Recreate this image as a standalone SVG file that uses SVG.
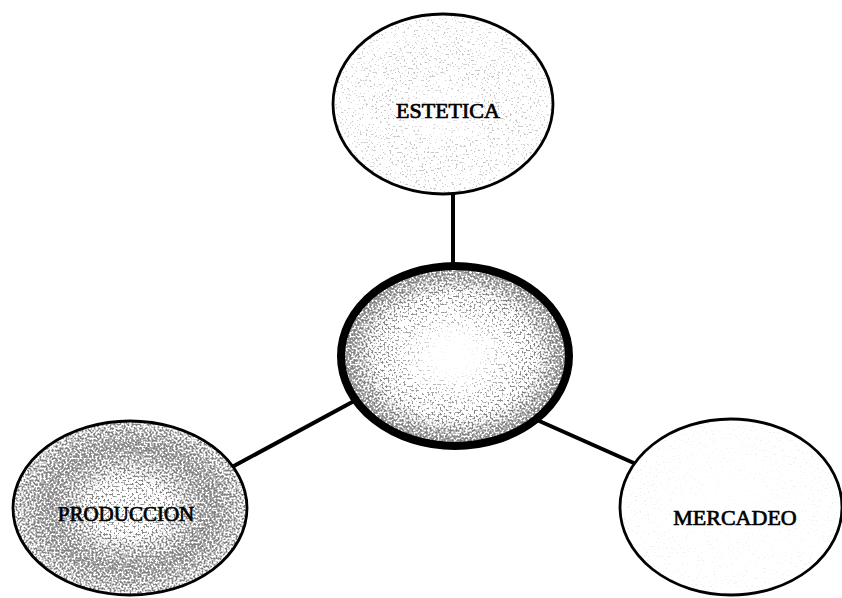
<svg xmlns="http://www.w3.org/2000/svg" width="842" height="598" viewBox="0 0 842 598">
  <style>
    .outline { fill: none; stroke: #000; stroke-width: 2.8; }
    .paper { fill: #fff; }
    .label { font-family: "Liberation Serif", "Times New Roman", serif; font-size: 22px; fill: #000; stroke: #000; stroke-width: 0.7; text-anchor: middle; }
    .link { stroke: #000; stroke-width: 4; stroke-linecap: butt; }
  </style>
  <defs>
    <!-- stochastic halftone: a dot is printed wherever the shade is darker than the noise -->
    <filter id="dither" x="-5%" y="-5%" width="110%" height="110%" color-interpolation-filters="sRGB">
      <feColorMatrix in="SourceGraphic" type="matrix" values="0 0 0 0 0  0 0 0 0 0  0 0 0 0 0  -0.333 -0.333 -0.334 0 1" result="shade"/>
      <feTurbulence type="fractalNoise" baseFrequency="0.5" numOctaves="2" seed="7" result="noise"/>
      <feColorMatrix in="noise" type="matrix" values="0 0 0 0 0  0 0 0 0 0  0 0 0 0 0  2.6 0 0 0 -0.8" result="level"/>
      <feComposite in="shade" in2="level" operator="arithmetic" k1="0" k2="1" k3="-1" k4="0.5" result="diff"/>
      <feComponentTransfer in="diff" result="dots">
        <feFuncA type="discrete" tableValues="0 1"/>
      </feComponentTransfer>
      <feComposite in="dots" in2="SourceAlpha" operator="in"/>
    </filter>
    <radialGradient id="gCore" cx="0.5" cy="0.5" r="0.5">
      <stop offset="0" stop-color="#fff"/>
      <stop offset="0.2" stop-color="#f6f6f6"/>
      <stop offset="0.45" stop-color="#b8b8b8"/>
      <stop offset="0.75" stop-color="#707070"/>
      <stop offset="1" stop-color="#202020"/>
    </radialGradient>
    <radialGradient id="gAesthetic" cx="0.5" cy="0.55" r="0.5">
      <stop offset="0" stop-color="#f4f4f4"/>
      <stop offset="0.5" stop-color="#d8d8d8"/>
      <stop offset="1" stop-color="#e2e2e2"/>
    </radialGradient>
    <radialGradient id="gProduction" cx="0.5" cy="0.5" r="0.5">
      <stop offset="0" stop-color="#a8a8a8"/>
      <stop offset="0.35" stop-color="#7a7a7a"/>
      <stop offset="0.7" stop-color="#383838"/>
      <stop offset="1" stop-color="#6a6a6a"/>
    </radialGradient>
    <radialGradient id="gMarketing" cx="0.5" cy="0.5" r="0.5">
      <stop offset="0" stop-color="#fcfcfc"/>
      <stop offset="1" stop-color="#f6f6f6"/>
    </radialGradient>
  </defs>

  <rect width="842" height="598" fill="#fff"/>

  <g id="connectors">
    <line class="link" x1="453" y1="193" x2="453" y2="266"/>
    <line class="link" x1="356" y1="400" x2="232" y2="467"/>
    <line class="link" x1="537" y1="420" x2="636" y2="464"/>
  </g>

  <g id="estetica">
    <ellipse class="paper" cx="443" cy="104" rx="110" ry="90"/>
    <ellipse cx="443" cy="104" rx="110" ry="90" fill="url(#gAesthetic)" filter="url(#dither)"/>
    <ellipse class="outline" cx="443" cy="104" rx="110" ry="90"/>
    <text class="label" x="448" y="118">ESTETICA</text>
  </g>

  <g id="centro">
    <ellipse class="paper" cx="455" cy="356" rx="115" ry="91"/>
    <ellipse cx="455" cy="356" rx="115" ry="91" fill="url(#gCore)" filter="url(#dither)"/>
    <ellipse cx="455" cy="356" rx="114" ry="90" fill="none" stroke="#000" stroke-width="8"/>
  </g>

  <g id="produccion">
    <ellipse class="paper" cx="130" cy="508" rx="117" ry="87"/>
    <ellipse cx="130" cy="508" rx="117" ry="87" fill="url(#gProduction)" filter="url(#dither)"/>
    <ellipse class="outline" cx="130" cy="508" rx="117" ry="87"/>
    <text class="label" x="126" y="521" style="font-size:21px">PRODUCCION</text>
  </g>

  <g id="mercadeo">
    <ellipse class="paper" cx="731" cy="507" rx="111" ry="88"/>
    <ellipse cx="731" cy="507" rx="111" ry="88" fill="url(#gMarketing)" filter="url(#dither)"/>
    <ellipse class="outline" cx="731" cy="507" rx="111" ry="88"/>
    <text class="label" x="735" y="525">MERCADEO</text>
  </g>
</svg>
